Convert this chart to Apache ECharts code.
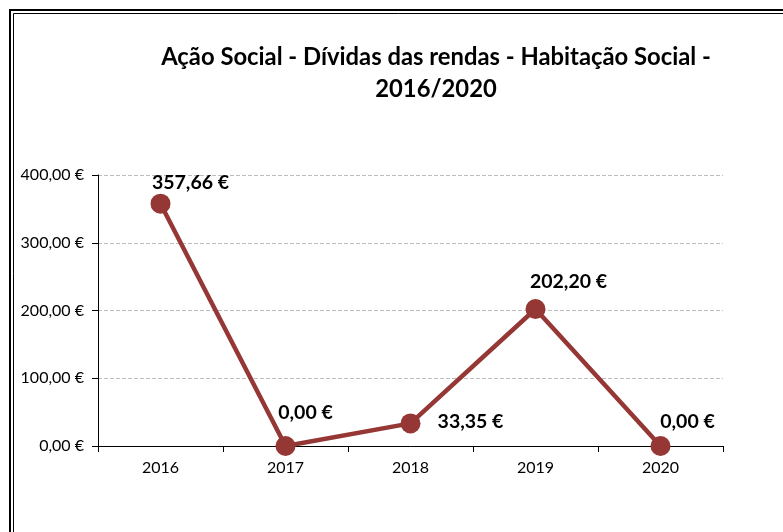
<!DOCTYPE html>
<html>
<head>
<meta charset="utf-8">
<script src="https://cdn.jsdelivr.net/npm/echarts@6/dist/echarts.min.js"></script>
<style>
  html, body { margin: 0; padding: 0; background: #fff; }
  #chart { width: 783px; height: 532px; }
</style>
</head>
<body>
<div id="chart"></div>
<script>
// Ação Social - dívidas das rendas, habitação social
const years = ["2016", "2017", "2018", "2019", "2020"];
const debts = [357.66, 0, 33.35, 202.20, 0];
const yTicks = [0, 100, 200, 300, 400];

const FONT = "Lato, 'Open Sans', sans-serif";
const RED = "#953735";

// label nudges (px) per point, as placed in the original
const labelNudge = [[30, -21], [20, -33], [60, -2], [33, -27], [27, -24]];

const euro = v => Number(v).toFixed(2).replace(".", ",") + " €";

const chart = echarts.init(document.getElementById("chart"), null, { renderer: "canvas" });
chart.setOption({
  backgroundColor: "#fff",
  animation: false,
  textStyle: { fontFamily: FONT },
  title: {
    text: "Ação Social - Dívidas das rendas - Habitação Social -\n2016/2020",
    left: 431, top: 36, textAlign: "center",
    textStyle: { fontFamily: FONT, fontSize: 23.8, fontWeight: "bold", color: "#000", lineHeight: 32 },
  },
  grid: { left: 98, right: 60, top: 175, bottom: 86 },
  xAxis: {
    type: "category",
    data: years,
    boundaryGap: true,
    axisLine: { lineStyle: { color: "#000", width: 1 } },
    axisTick: { show: true, alignWithLabel: false, length: 6, lineStyle: { color: "#000" } },
    axisLabel: { color: "#000", fontSize: 16, fontFamily: FONT, margin: 14 },
    splitLine: { show: false },
  },
  yAxis: {
    type: "value",
    min: yTicks[0], max: yTicks[yTicks.length - 1], interval: 100,
    axisLine: { show: true, lineStyle: { color: "#000", width: 1 } },
    axisTick: { show: true, length: 6, lineStyle: { color: "#000" } },
    axisLabel: { color: "#000", fontSize: 16, fontFamily: FONT, margin: 14, formatter: euro },
    splitLine: { show: true, lineStyle: { color: "#bdbdbd", type: [4, 2], width: 1 } },
  },
  series: [{
    type: "line",
    data: debts.map((v, i) => ({
      value: v,
      label: { position: "inside", offset: labelNudge[i] },
    })),
    symbol: "circle",
    symbolSize: 20,
    showSymbol: true,
    lineStyle: { color: RED, width: 4.5 },
    itemStyle: { color: RED },
    label: {
      show: true,
      formatter: p => euro(p.value),
      color: "#000",
      fontFamily: FONT,
      fontSize: 19.5,
      fontWeight: "bold",
    },
    z: 3,
  }],
  graphic: [
    { type: "rect", shape: { x: 10, y: 10, width: 900, height: 700 }, style: { fill: null, stroke: "#000", lineWidth: 2 }, silent: true },
    { type: "rect", shape: { x: 13.5, y: 13.5, width: 900, height: 700 }, style: { fill: null, stroke: "#000", lineWidth: 1 }, silent: true },
  ],
});
</script>
</body>
</html>
